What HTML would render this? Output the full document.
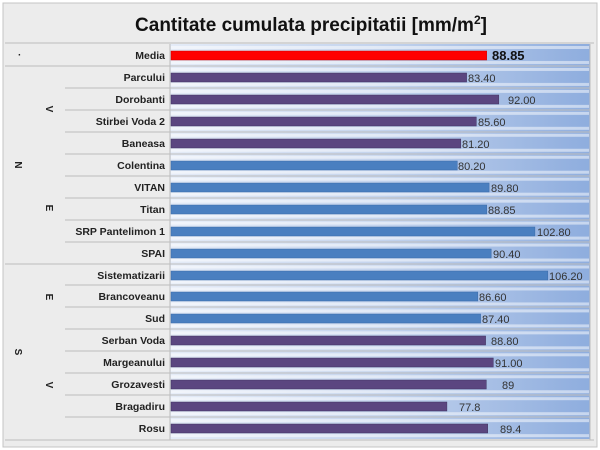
<!DOCTYPE html>
<html><head><meta charset="utf-8"><style>body{margin:0;background:#fff}svg{display:block}text{font-family:"Liberation Sans",sans-serif}.l{font-size:10.5px;font-weight:bold;fill:#222;text-anchor:end}.v{font-size:11px;fill:#333}.g{font-size:10px;font-weight:bold;fill:#222;text-anchor:middle}.p{fill:#5b4680;stroke:#3f3360;stroke-width:.5}.b{fill:#4a7fc0;stroke:#3a6aa8;stroke-width:.5}</style></head><body>
<svg width="600" height="450" xmlns="http://www.w3.org/2000/svg">
<defs>
<linearGradient id="bg" x1="0" x2="1" y1="0" y2="0"><stop offset="0" stop-color="#e4ebf7"/><stop offset="0.5" stop-color="#c3d3ed"/><stop offset="1" stop-color="#8eadde"/></linearGradient>
<pattern id="st" x="0" y="44" width="10" height="21.95" patternUnits="userSpaceOnUse"><rect x="0" y="2" width="10" height="3" fill="#fff" opacity="0.5"/><rect x="0" y="17" width="10" height="3" fill="#fff" opacity="0.5"/></pattern>
</defs>
<rect x="3" y="3" width="594" height="444" fill="#ececec" stroke="#c4c4c4"/>
<text x="311" y="31" font-size="19" font-weight="bold" text-anchor="middle" fill="#111">Cantitate cumulata precipitatii [mm/m<tspan font-size="12" dy="-7">2</tspan><tspan dy="7">]</tspan></text>
<line x1="5" y1="43" x2="594" y2="43" stroke="#bdbdbd"/>
<rect x="170" y="44" width="420" height="395" fill="url(#bg)"/>
<rect x="171" y="44" width="418" height="395" fill="url(#st)"/>
<path d="M5 66H590M65 88H590M65 110H590M65 132H590M65 154H590M65 176H590M65 198H590M65 220H590M65 242H590M5 264H590M65 285H590M65 307H590M65 329H590M65 351H590M65 373H590M65 395H590M65 417H590" stroke="#bdbdbd" fill="none"/>
<line x1="5" y1="440" x2="594" y2="440" stroke="#bdbdbd"/>
<line x1="170" y1="44" x2="170" y2="440" stroke="#bdbdbd"/>
<line x1="590" y1="44" x2="590" y2="440" stroke="#bdbdbd"/>

<rect x="171" y="51" width="315.7" height="9" fill="#ff0000" stroke="#c00" stroke-width=".5"/>
<rect class="p" x="171" y="73" width="295.6" height="9"/>
<rect class="p" x="171" y="95" width="327.8" height="9"/>
<rect class="p" x="171" y="117" width="305.3" height="9"/>
<rect class="p" x="171" y="139" width="289.8" height="9"/>
<rect class="b" x="171" y="161" width="286.3" height="9"/>
<rect class="b" x="171" y="183" width="318.1" height="9"/>
<rect class="b" x="171" y="205" width="315.7" height="9"/>
<rect class="b" x="171" y="227" width="363.9" height="9"/>
<rect class="b" x="171" y="249" width="320.2" height="9"/>
<rect class="b" x="171" y="271" width="376.8" height="9"/>
<rect class="b" x="171" y="292" width="306.8" height="9"/>
<rect class="b" x="171" y="314" width="309.6" height="9"/>
<rect class="p" x="171" y="336" width="314.6" height="9"/>
<rect class="p" x="171" y="358" width="322.3" height="9"/>
<rect class="p" x="171" y="380" width="315.3" height="9"/>
<rect class="p" x="171" y="402" width="275.9" height="9"/>
<rect class="p" x="171" y="424" width="316.7" height="9"/>

<text class="l" x="165" y="59">Media</text>
<text class="l" x="165" y="81">Parcului</text>
<text class="l" x="165" y="103">Dorobanti</text>
<text class="l" x="165" y="125">Stirbei Voda 2</text>
<text class="l" x="165" y="147">Baneasa</text>
<text class="l" x="165" y="169">Colentina</text>
<text class="l" x="165" y="191">VITAN</text>
<text class="l" x="165" y="213">Titan</text>
<text class="l" x="165" y="235">SRP Pantelimon 1</text>
<text class="l" x="165" y="257">SPAI</text>
<text class="l" x="165" y="279">Sistematizarii</text>
<text class="l" x="165" y="300">Brancoveanu</text>
<text class="l" x="165" y="322">Sud</text>
<text class="l" x="165" y="344">Serban Voda</text>
<text class="l" x="165" y="366">Margeanului</text>
<text class="l" x="165" y="388">Grozavesti</text>
<text class="l" x="165" y="410">Bragadiru</text>
<text class="l" x="165" y="432">Rosu</text>

<text x="492" y="60" font-size="13" font-weight="bold" fill="#111">88.85</text>
<text class="v" x="468" y="82">83.40</text>
<text class="v" x="508" y="104">92.00</text>
<text class="v" x="478" y="126">85.60</text>
<text class="v" x="462" y="148">81.20</text>
<text class="v" x="458" y="170">80.20</text>
<text class="v" x="491" y="192">89.80</text>
<text class="v" x="488" y="214">88.85</text>
<text class="v" x="537" y="236">102.80</text>
<text class="v" x="493" y="258">90.40</text>
<text class="v" x="549" y="280">106.20</text>
<text class="v" x="479" y="301">86.60</text>
<text class="v" x="482" y="323">87.40</text>
<text class="v" x="491" y="345">88.80</text>
<text class="v" x="495" y="367">91.00</text>
<text class="v" x="502" y="389">89</text>
<text class="v" x="459" y="411">77.8</text>
<text class="v" x="500" y="433">89.4</text>

<text x="18" y="58" font-size="10" font-weight="bold" fill="#222">·</text>
<text class="g" x="15" y="165" transform="rotate(90 15 165)">N</text>
<text class="g" x="46" y="109" transform="rotate(90 46 109)">V</text>
<text class="g" x="46" y="208" transform="rotate(90 46 208)">E</text>
<text class="g" x="15" y="352" transform="rotate(90 15 352)">S</text>
<text class="g" x="46" y="297" transform="rotate(90 46 297)">E</text>
<text class="g" x="46" y="385" transform="rotate(90 46 385)">V</text>
</svg>
</body></html>
